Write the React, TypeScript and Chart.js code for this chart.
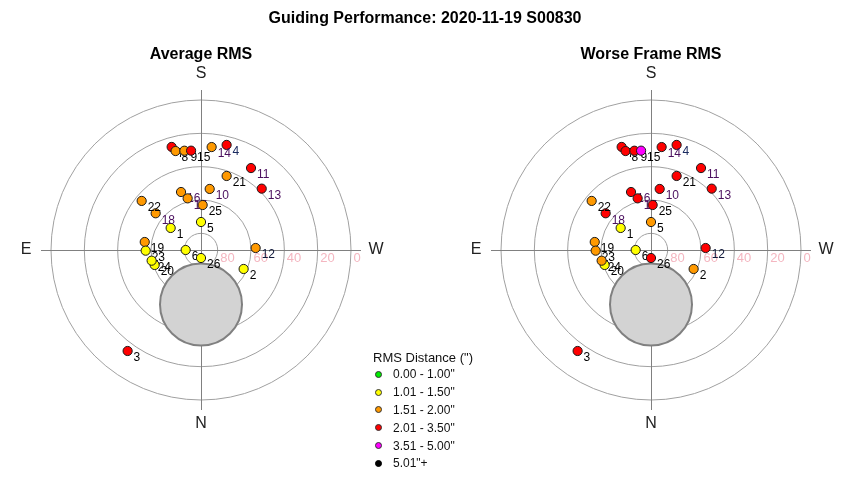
import React, { useEffect, useRef } from "react";
import { Chart, registerables } from "chart.js";
Chart.register(...registerables);

const chartTitle = "Guiding Performance: 2020-11-19 S00830";
const panelTitles = ["Average RMS", "Worse Frame RMS"];

const pointLabels = ["1","2","3","4","5","6","7","8","9","10","11","12","13","14","15","16","17","18","19","20","21","22","23","24","25","26"];
const azimuthDeg = [126, 294, 36, 193.7, 180, 90, 164.1, 165.6, 170.5, 188.1, 211.4, 267.9, 224.7, 185.9, 174.3, 161.0, 165.5, 129.0, 98.1, 72.1, 199.1, 129.6, 89.3, 77.8, 182.1, 0];
const altitudeDeg = [67.5, 62.0, 15.1, 25.1, 73.2, 80.8, 25.7, 28.7, 29.6, 53.0, 32.4, 57.2, 38.2, 27.9, 30.1, 53.2, 58.0, 55.0, 55.9, 60.8, 43.0, 43.8, 56.8, 59.7, 63.0, 85.2];
// RMS bin index: 0 green, 1 yellow, 2 orange, 3 red, 4 magenta, 5 black
const averageRmsBin = [1, 1, 3, 3, 1, 1, 3, 2, 2, 2, 3, 2, 3, 2, 3, 2, 2, 2, 2, 1, 2, 2, 1, 1, 2, 1];
const worstRmsBin = [1, 2, 3, 3, 2, 1, 3, 3, 3, 3, 3, 3, 3, 3, 4, 3, 3, 3, 2, 1, 3, 2, 2, 2, 3, 3];
const labelTint = ["#000","#000","#000","#1a2a60","#000","#000","#000","#000","#000","#4b0f5e","#4b0f5e","#10183a","#4b0f5e","#4b0f5e","#000","#4b0f5e","#4b0f5e","#4b0f5e","#000","#000","#000","#000","#000","#000","#000","#000"];

const binLabels = ['0.00 - 1.00"', '1.01 - 1.50"', '1.51 - 2.00"', '2.01 - 3.50"', '3.51 - 5.00"', '5.01"+'];
const binColors = ["#00ee00", "#ffff00", "#ff9900", "#ff0000", "#ff00ff", "#000000"];
const legendTitle = 'RMS Distance (")';

const ringAltitudes = [80, 60, 40, 20, 0];
const compassLabels = ["S", "W", "N", "E"];

// shaded avoidance zone: azimuth, altitude of centre and radius (deg)
const zoneAz = 0;
const zoneAlt = 57.3;
const zoneRadius = 24.6;

const PX_PER_DEG = 150 / 90;
const FONT = "'Liberation Sans', Arial, sans-serif";

function toXY(az: number, alt: number) {
  const r = 90 - alt;
  const a = (az * Math.PI) / 180;
  return { x: -r * Math.sin(a), y: -r * Math.cos(a) };
}

const gridPlugin = {
  id: "skyGrid",
  beforeDatasetsDraw(chart: any) {
    const ctx = chart.ctx;
    const xs = chart.scales.x;
    const ys = chart.scales.y;
    const cx = xs.getPixelForValue(0);
    const cy = ys.getPixelForValue(0);
    const px = (d: number) => xs.getPixelForValue(d) - cx;
    ctx.save();
    ctx.strokeStyle = "#a0a0a0";
    ctx.lineWidth = 1;
    ringAltitudes.forEach((alt) => {
      ctx.beginPath();
      ctx.arc(cx, cy, px(90 - alt), 0, Math.PI * 2);
      ctx.stroke();
    });
    ctx.strokeStyle = "#808080";
    const L = px(96);
    ctx.beginPath();
    ctx.moveTo(cx - L, cy + 0.5);
    ctx.lineTo(cx + L, cy + 0.5);
    ctx.moveTo(cx + 0.5, cy - L);
    ctx.lineTo(cx + 0.5, cy + L);
    ctx.stroke();
    ctx.fillStyle = "#f4b6c0";
    ctx.font = `13px ${FONT}`;
    ctx.textBaseline = "middle";
    ctx.textAlign = "left";
    ringAltitudes.forEach((alt) => {
      ctx.fillText(String(alt), cx + px(90 - alt) + 2.5, cy + 8);
    });
    ctx.fillStyle = "#222";
    ctx.font = `16px ${FONT}`;
    ctx.textAlign = "center";
    const d = px(105);
    ctx.fillText(compassLabels[0], cx, cy - d - 1);
    ctx.fillText(compassLabels[1], cx + d, cy);
    ctx.fillText(compassLabels[2], cx, cy + d - 1);
    ctx.fillText(compassLabels[3], cx - d, cy);
    const z = toXY(zoneAz, zoneAlt);
    ctx.beginPath();
    ctx.arc(xs.getPixelForValue(z.x), ys.getPixelForValue(z.y), px(zoneRadius), 0, Math.PI * 2);
    ctx.fillStyle = "#d3d3d3";
    ctx.fill();
    ctx.strokeStyle = "#808080";
    ctx.lineWidth = 2;
    ctx.stroke();
    ctx.restore();
  },
  afterDatasetDraw(chart: any, args: any) {
    const i = args.index;
    const el = args.meta.data[0];
    if (!el) return;
    const ctx = chart.ctx;
    ctx.save();
    ctx.font = `12px ${FONT}`;
    ctx.textBaseline = "middle";
    ctx.textAlign = "left";
    ctx.fillStyle = labelTint[i];
    ctx.fillText(pointLabels[i], el.x + 6, el.y + 7);
    ctx.restore();
  },
};

function SkyChart({ bins, left, centerX }: { bins: number[]; left: number; centerX: number }) {
  const ref = useRef<HTMLCanvasElement>(null);
  useEffect(() => {
    const W = 425, H = 480, CY = 250;
    const datasets = pointLabels.map((lab, i) => {
      const p = toXY(azimuthDeg[i], altitudeDeg[i]);
      return {
        label: lab,
        data: [p],
        backgroundColor: binColors[bins[i]],
        borderColor: "#1a1a1a",
        borderWidth: 1,
        pointRadius: 4.6,
        pointHoverRadius: 4.6,
        order: pointLabels.length - i,
        clip: false as any,
      };
    });
    const chart = new Chart(ref.current!, {
      type: "scatter",
      data: { datasets },
      options: {
        animation: false,
        responsive: false,
        maintainAspectRatio: false,
        events: [],
        layout: { padding: 0, autoPadding: false },
        plugins: { legend: { display: false }, title: { display: false }, tooltip: { enabled: false } },
        scales: {
          x: { display: false, min: -centerX / PX_PER_DEG, max: (W - centerX) / PX_PER_DEG },
          y: { display: false, min: -(H - CY) / PX_PER_DEG, max: CY / PX_PER_DEG },
        },
      },
      plugins: [gridPlugin],
    });
    return () => chart.destroy();
  }, [bins, centerX]);
  return (
    <canvas
      ref={ref}
      width={425}
      height={480}
      style={{ position: "absolute", left, top: 0, width: 425, height: 480 }}
    />
  );
}

export default function App() {
  const text: React.CSSProperties = { position: "absolute", fontFamily: FONT, color: "#000", whiteSpace: "nowrap" };
  return (
    <div style={{ position: "absolute", left: 0, top: 0, width: 850, height: 480, background: "#fff", overflow: "hidden" }}>
      <SkyChart bins={averageRmsBin} left={0} centerX={201} />
      <SkyChart bins={worstRmsBin} left={425} centerX={226} />
      <div style={{ ...text, left: 0, width: 850, top: 9, textAlign: "center", fontWeight: "bold", fontSize: 16, lineHeight: "18px" }}>{chartTitle}</div>
      <div style={{ ...text, left: 101, width: 200, top: 45, textAlign: "center", fontWeight: "bold", fontSize: 16, lineHeight: "18px" }}>{panelTitles[0]}</div>
      <div style={{ ...text, left: 551, width: 200, top: 45, textAlign: "center", fontWeight: "bold", fontSize: 16, lineHeight: "18px" }}>{panelTitles[1]}</div>
      <div style={{ ...text, left: 373, top: 350, fontSize: 13, lineHeight: "16px", color: "#111" }}>{legendTitle}</div>
      {binLabels.map((lab, i) => (
        <div key={lab} style={{ position: "absolute", left: 0, top: 374.3 + i * 17.8 - 8, height: 16 }}>
          <span style={{ position: "absolute", left: 374.5, top: 4.5, width: 7, height: 7, borderRadius: "50%", background: binColors[i], border: `0.6px solid ${i === 5 ? "#000" : "#333"}`, boxSizing: "border-box" }} />
          <span style={{ ...text, left: 393, top: 0, fontSize: 12, lineHeight: "16px", color: "#111" }}>{lab}</span>
        </div>
      ))}
    </div>
  );
}
